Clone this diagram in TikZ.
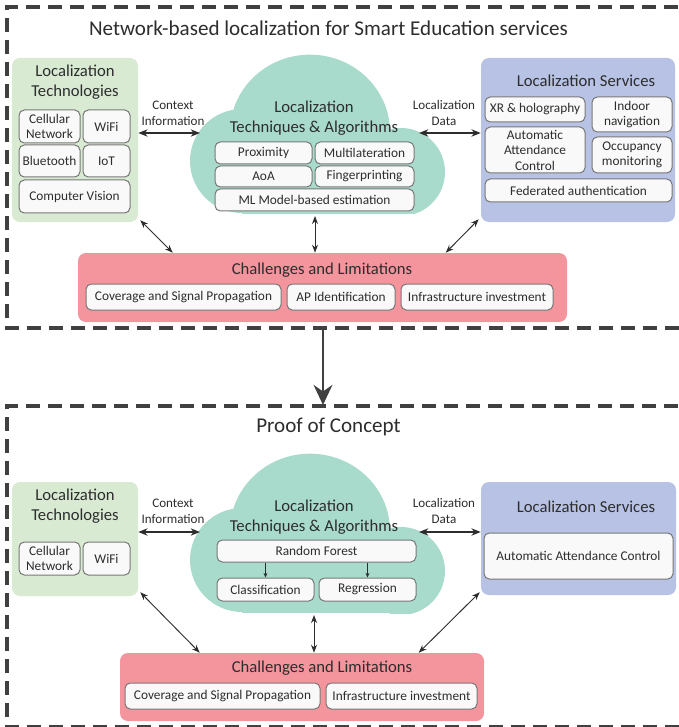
\documentclass[tikz,border=0pt]{standalone}
\usepackage{fontspec}
\setmainfont{Carlito}
\usetikzlibrary{arrows.meta}

\definecolor{techgreen}{RGB}{217,234,211}
\definecolor{cloudteal}{RGB}{169,219,204}
\definecolor{servblue}{RGB}{183,194,228}
\definecolor{chalred}{RGB}{244,148,156}
\definecolor{inkgray}{RGB}{45,45,45}
\definecolor{framegray}{RGB}{64,64,64}
\definecolor{subfill}{RGB}{249,249,249}
\definecolor{subline}{RGB}{120,120,120}

\tikzset{
  sz/.style 2 args={minimum width=#1*0.75pt, minimum height=#2*0.75pt},
  panel/.style={fill=#1, rounded corners=6pt, inner sep=0pt},
  subbox/.style={draw=subline, fill=subfill, line width=0.75pt, rounded corners=4pt,
    text=inkgray, font=\fontsize{10}{11.6}\selectfont, align=center, inner sep=0pt},
  heading/.style={text=inkgray, font=\fontsize{12.5}{15}\selectfont, align=center, inner sep=0pt},
  flowlabel/.style={text=inkgray, font=\fontsize{9.8}{12}\selectfont, align=center, inner sep=0pt},
  title/.style={text=inkgray, font=\fontsize{15.8}{19}\selectfont, inner sep=0pt},
  frame/.style={draw=framegray, line width=2.6pt, dash pattern=on 10.5pt off 6pt},
  bigarrow/.style={draw=framegray, line width=2.2pt, -{Stealth[length=15pt,width=14pt]}},
  ctxlink/.style={draw=inkgray, line width=1pt, {Stealth[length=7pt,width=5.5pt]}-{Stealth[length=7pt,width=5.5pt]}},
  link/.style={draw=inkgray, line width=0.7pt, {Stealth[length=6pt,width=4.5pt]}-{Stealth[length=6pt,width=4.5pt]}},
  minilink/.style={draw=inkgray, line width=0.5pt, -{Stealth[length=3.5pt,width=3pt]}},
  algcloud/.pic={
    \clip (150,40) rectangle (460,214);
    \fill[cloudteal] (310,132) ellipse[x radius=60pt, y radius=58pt];
    \fill[cloudteal] (242,161) circle[radius=39pt];
    \fill[cloudteal] (401,172) circle[radius=33pt];
    \fill[cloudteal] (242,150) rectangle (401,214);
  }
}

\begin{document}
\begin{tikzpicture}[x=0.75pt, y=-0.75pt]
\useasboundingbox (0,0) rectangle (678,727);

% network-based localization
\draw[frame] (700,7) -- (7,7) -- (7,328) -- (700,328);
\node[title] (mainT) at (328.5,28) {Network-based localization for Smart Education services};

\node[panel=techgreen, sz={126}{164}] (tech) at (75,140) {};
\node[heading] (techT) at (75,82) {Localization\\Technologies};
\node[subbox, sz={61}{33}] (cell) at (49.5,126.5) {Cellular\\Network};
\node[subbox, sz={47}{33}] (wifi) at (106.5,126.5) {WiFi};
\node[subbox, sz={61}{32}] (bt) at (49.5,161) {Bluetooth};
\node[subbox, sz={47}{32}] (iot) at (106.5,161) {IoT};
\node[subbox, sz={111}{33}] (cv) at (74.5,196.5) {Computer Vision};

\pic at (0,0) {algcloud};
\coordinate (algW) at (200,133);
\coordinate (algE) at (419,133);
\coordinate (algS) at (315,216);
\node[heading] (algT) at (314,118) {Localization\\Techniques \& Algorithms};
\node[subbox, sz={97}{22}] (prox) at (263.5,153) {Proximity};
\node[subbox, sz={99}{22}] (multi) at (364.5,153) {Multilateration};
\node[subbox, sz={97}{21}] (aoa) at (263.5,176.5) {AoA};
\node[subbox, sz={99}{21}] (finger) at (364.5,176.5) {Fingerprinting};
\node[subbox, sz={199}{22}] (mlest) at (314.5,200) {ML Model-based estimation};

\node[panel=servblue, sz={194}{164}] (serv) at (578,140) {};
\node[heading] (servT) at (586,81) {Localization Services};
\node[subbox, sz={100}{25}] (xr) at (535,109.5) {XR \& holography};
\node[subbox, sz={80}{35}] (indoor) at (632,114.5) {Indoor\\navigation};
\node[subbox, sz={100}{46}] (aac) at (535,150) {Automatic\\Attendance\\Control};
\node[subbox, sz={80}{36}] (occ) at (632,155) {Occupancy\\monitoring};
\node[subbox, sz={187}{23}] (fed) at (578.5,190.5) {Federated authentication};

\node[panel=chalred, sz={489}{69}] (chal) at (322.5,287.5) {};
\node[heading] (chalT) at (322,270) {Challenges and Limitations};
\node[subbox, sz={195}{26}] (cov) at (183.5,297) {Coverage and Signal Propagation};
\node[subbox, sz={108}{26}] (apid) at (341,297) {AP Identification};
\node[subbox, sz={152}{26}] (infra) at (477,297) {Infrastructure investment};

\node[flowlabel] (ctxL) at (173,113) {Context\\Information};
\node[flowlabel] (dataL) at (444,113) {Localization\\Data};
\draw[ctxlink] (tech.east |- algW) -- (algW);
\draw[ctxlink] (algE) -- (serv.west |- algE);
\draw[link] ([shift={(2,-2)}]tech.south east) -- ([shift={(95,0)}]chal.north west);
\draw[link] (algS) -- (chal.north -| algS);
\draw[link] ([shift={(-2,-3)}]serv.south west) -- ([shift={(368,0)}]chal.north west);

% step down
\coordinate (frameA) at (323,328);
\coordinate (frameB) at (323,405);
\draw[bigarrow] (frameA) -- (frameB);

% proof of concept
\draw[frame] (700,406) -- (7,406) -- (7,727) -- (700,727);
\node[title] (pocT) at (328.5,427) {Proof of Concept};

\node[panel=techgreen, sz={126}{114}] (tech2) at (75,539) {};
\node[heading] (techT2) at (75,506) {Localization\\Technologies};
\node[subbox, sz={61}{33}] (cell2) at (49.5,558.5) {Cellular\\Network};
\node[subbox, sz={47}{33}] (wifi2) at (106.5,558.5) {WiFi};

\pic at (0,399) {algcloud};
\coordinate (algW2) at (200,532);
\coordinate (algE2) at (419,532);
\coordinate (algS2) at (314,615);
\node[heading] (algT2) at (314,517) {Localization\\Techniques \& Algorithms};
\node[subbox, sz={199}{22}] (rf) at (316.5,551) {Random Forest};
\node[subbox, sz={97}{23}] (cls) at (265.5,589.5) {Classification};
\node[subbox, sz={97}{23}] (reg) at (367.5,589.5) {Regression};
\draw[minilink] (rf.south -| cls) -- (cls.north);
\draw[minilink] (rf.south -| reg) -- (reg.north);

\node[panel=servblue, sz={195}{113}] (serv2) at (578.5,538.5) {};
\node[heading] (servT2) at (586,507) {Localization Services};
\node[subbox, sz={189}{46}] (aac2) at (578.5,556) {Automatic Attendance Control};

\node[panel=chalred, sz={364}{68}] (chal2) at (302,687) {};
\node[heading] (chalT2) at (322,668) {Challenges and Limitations};
\node[subbox, sz={195}{26}] (cov2) at (222.5,696) {Coverage and Signal Propagation};
\node[subbox, sz={151}{26}] (infra2) at (401.5,696) {Infrastructure investment};

\node[flowlabel] (ctxL2) at (173,511.5) {Context\\Information};
\node[flowlabel] (dataL2) at (444,511.5) {Localization\\Data};
\draw[ctxlink] (tech2.east |- algW2) -- (algW2);
\draw[ctxlink] (algE2) -- (serv2.west |- algE2);
\draw[link] ([shift={(2,-4)}]tech2.south east) -- ([shift={(80,0)}]chal2.north west);
\draw[link] (algS2) -- (chal2.north -| algS2);
\draw[link] ([shift={(-1,-3)}]serv2.south west) -- ([shift={(299,0)}]chal2.north west);
\end{tikzpicture}
\end{document}
